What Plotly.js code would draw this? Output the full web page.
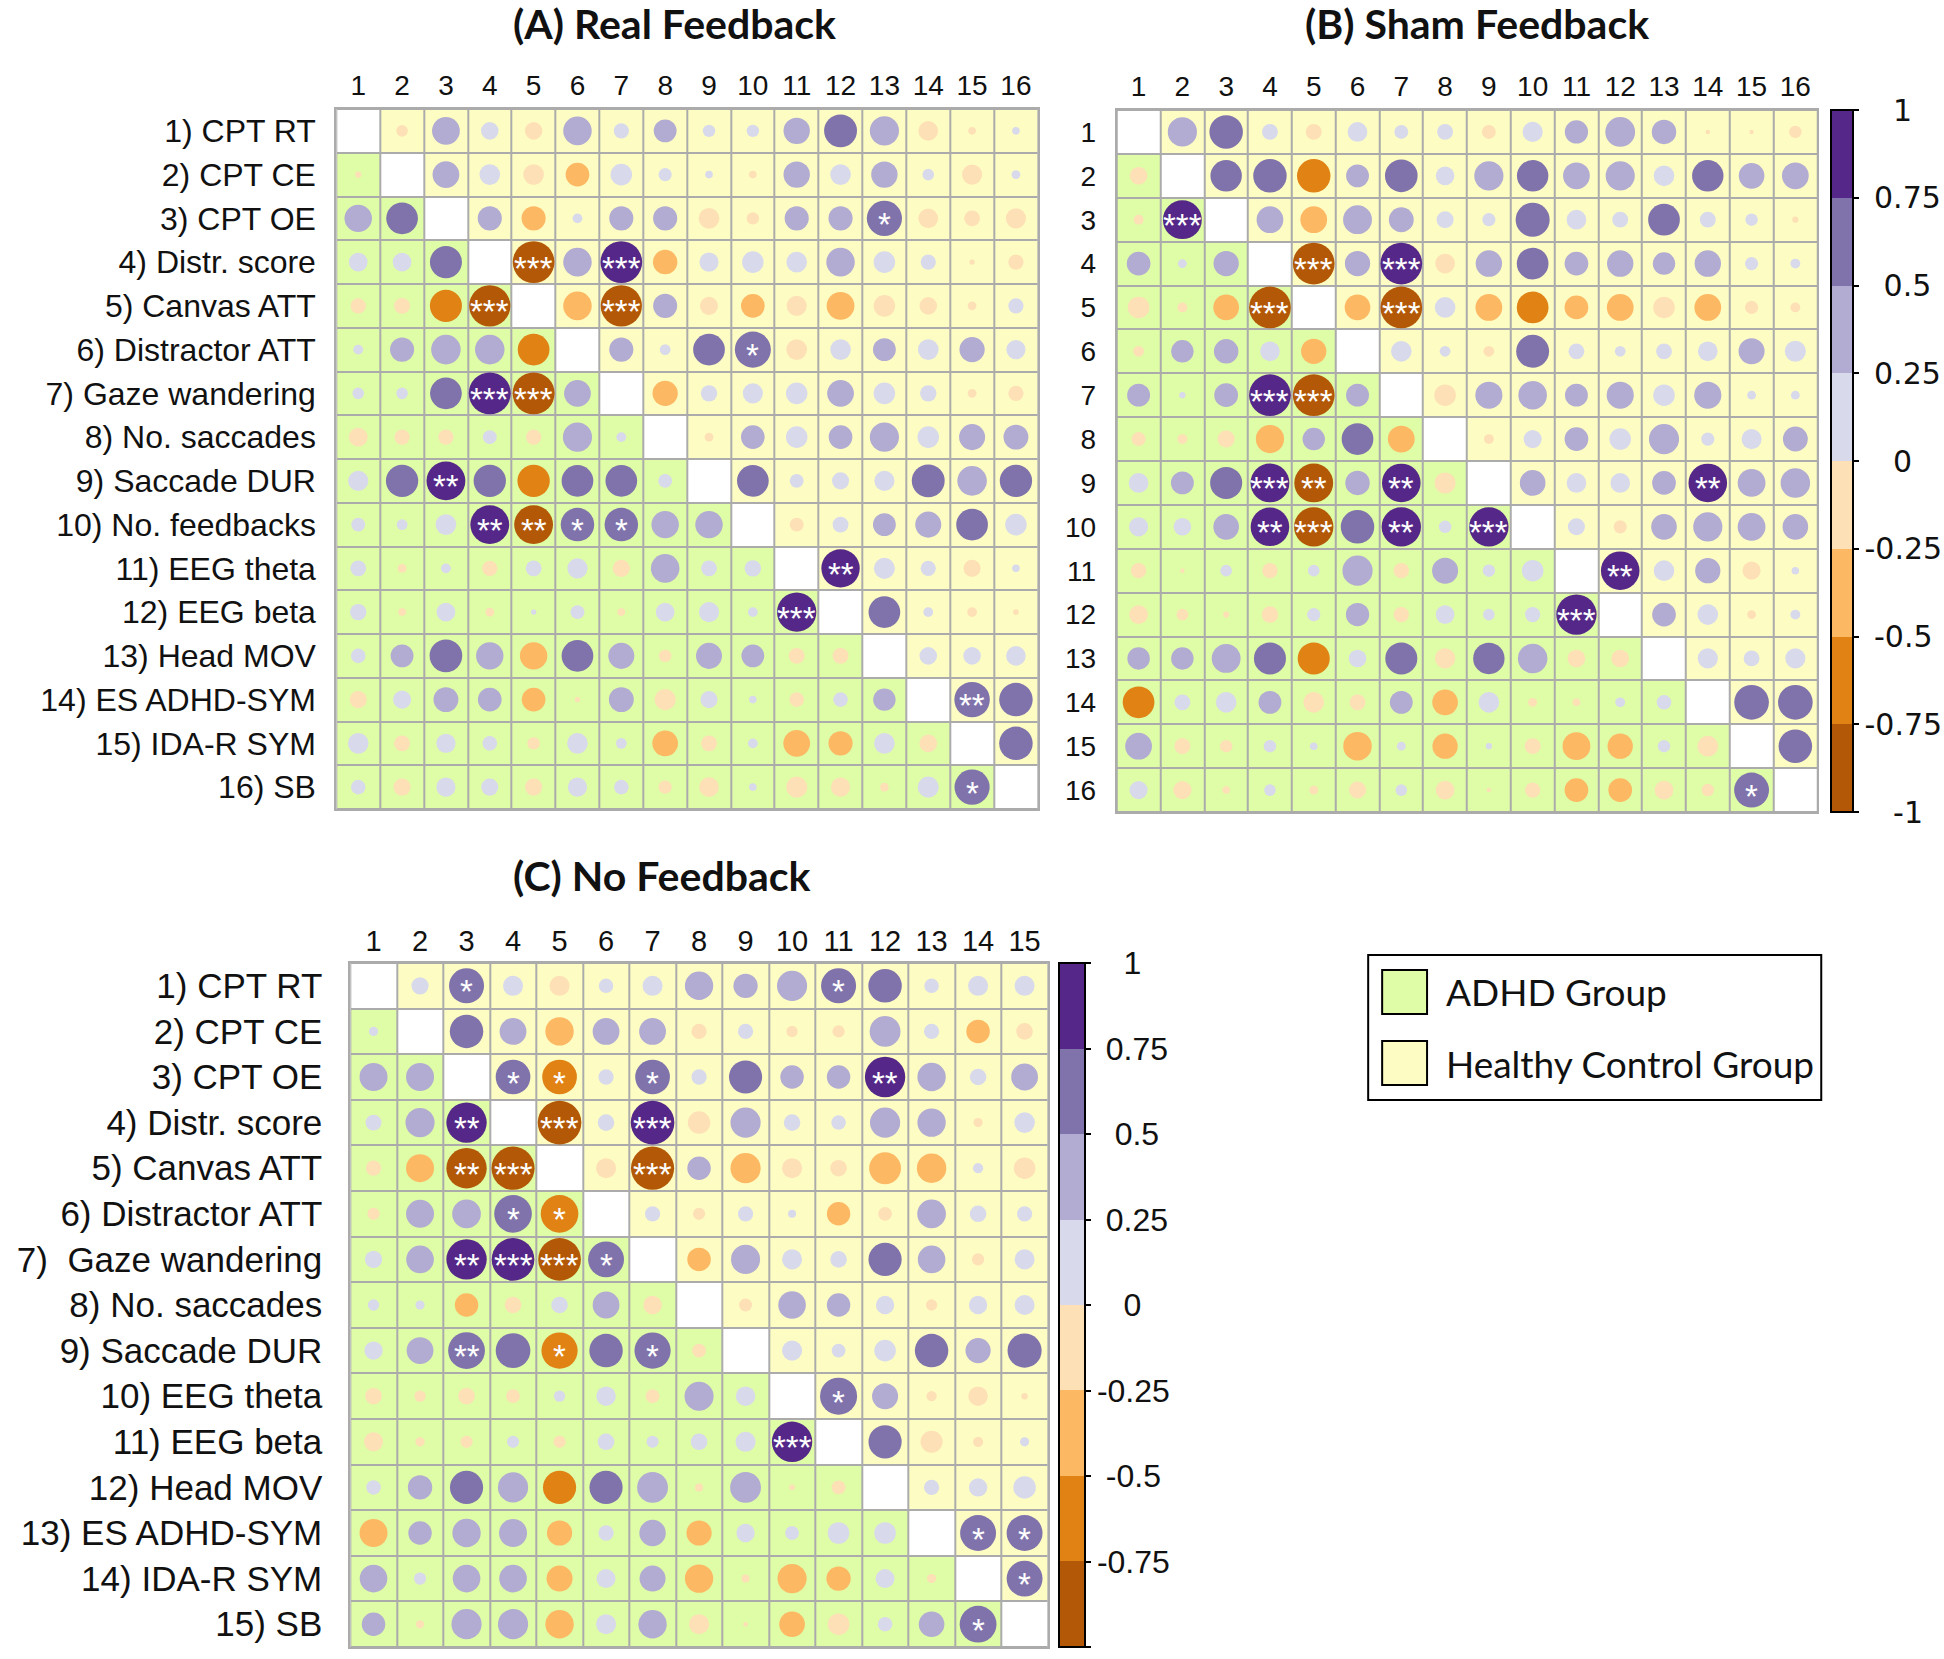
<!DOCTYPE html>
<html>
<head>
<meta charset="utf-8">
<script src="https://cdn.plot.ly/plotly-3.0.1.min.js"></script>
<style>html,body{margin:0;padding:0;background:#fff;}</style>
</head>
<body>
<div id="chart" style="width:1944px;height:1659px;"></div>
<script>
// ---------------- DATA ----------------
const rowLabelsA = ["1) CPT RT","2) CPT CE","3) CPT OE","4) Distr. score","5) Canvas ATT","6) Distractor ATT","7) Gaze wandering","8) No. saccades","9) Saccade DUR","10) No. feedbacks","11) EEG theta","12) EEG beta","13) Head MOV","14) ES ADHD-SYM","15) IDA-R SYM","16) SB"];
const rowLabelsB = ["1","2","3","4","5","6","7","8","9","10","11","12","13","14","15","16"];
const rowLabelsC = ["1) CPT RT","2) CPT CE","3) CPT OE","4) Distr. score","5) Canvas ATT","6) Distractor ATT","7)\u00a0\u00a0Gaze wandering","8) No. saccades","9) Saccade DUR","10) EEG theta","11) EEG beta","12) Head MOV","13) ES ADHD-SYM","14) IDA-R SYM","15) SB"];
const colLabels16 = ["1","2","3","4","5","6","7","8","9","10","11","12","13","14","15","16"];
const colLabels15 = ["1","2","3","4","5","6","7","8","9","10","11","12","13","14","15"];

// lower triangle = ADHD group, upper triangle = healthy control group
const corrA = [
 [null,-.07,.40,.16,-.16,.42,.12,.27,.08,.08,.36,.56,.44,-.20,-.03,.03],
 [-.02,null,.37,.22,-.22,-.29,.24,.09,.03,-.03,.36,.22,.36,.07,-.21,.04],
 [.39,.52,null,.30,-.30,.05,.30,.30,-.22,-.08,.30,.30,.64,-.20,-.13,-.21],
 [.18,.18,.53,null,-.90,.42,.90,-.31,.19,.24,.22,.42,.24,.12,-.015,-.12],
 [-.12,-.13,-.53,-.88,null,-.42,-.88,.30,-.17,-.29,-.21,-.40,-.24,-.16,-.04,.12],
 [.05,.30,.45,.45,-.52,null,.30,.06,.52,.67,-.22,.22,.27,.22,.33,.19],
 [.07,.07,.52,.91,-.91,.37,null,-.33,.14,.21,.24,.37,.24,.14,-.04,-.12],
 [-.18,-.12,-.12,.10,-.12,.44,.05,null,-.04,.29,.24,.29,.44,.24,.35,.32],
 [.21,.54,.78,.54,-.54,.52,.52,.10,null,.52,.10,.15,.21,.56,.45,.54],
 [.10,.06,.22,.78,-.78,.58,.58,.39,.39,null,-.10,.13,.27,.35,.52,.24],
 [.13,-.04,.05,-.12,.13,.21,-.15,.42,.13,.14,null,.76,.23,.12,-.15,.03],
 [.14,-.03,.18,-.04,.015,.10,-.03,.18,.21,.05,.80,null,.52,.05,-.05,-.017],
 [.11,.27,.55,.39,-.39,.52,.35,-.08,.35,.27,-.13,-.13,null,.16,.16,.20],
 [-.15,.17,.32,.29,-.29,-.015,.32,-.23,.15,.03,-.11,.11,.26,null,.65,.58],
 [.22,-.13,.19,.11,-.08,.22,.06,-.34,-.13,.05,-.37,-.30,.22,-.16,null,.58],
 [.11,-.15,.19,.15,-.15,.19,.11,-.09,-.20,.03,-.23,-.19,-.04,.23,.64,null]
];
const corrB = [
 [null,.44,.58,.13,-.13,.20,.10,.13,-.10,.21,.28,.46,.31,-.01,-.01,-.08],
 [-.16,null,.51,.58,-.58,.27,.55,.18,.44,.51,.37,.44,.22,.51,.34,.37],
 [-.05,.78,null,.37,-.37,.43,.32,.15,.09,.60,.20,.13,.52,.13,.08,-.02],
 [.29,.04,.33,null,-.90,.33,.90,-.20,.36,.52,.29,.36,.26,.36,.09,.05],
 [-.24,-.05,-.34,-.90,null,-.34,-.90,.22,-.37,-.52,-.29,-.37,-.24,-.37,-.09,-.05],
 [-.06,.26,.31,.20,-.33,null,.22,.06,-.06,.56,.13,.06,.13,.20,.35,.23],
 [.27,.02,.29,.90,-.90,.27,null,-.24,.38,.42,.27,.38,.24,.38,.04,.04],
 [-.10,-.05,-.15,-.41,.26,.52,-.37,null,-.05,.17,.29,.24,.47,.09,.21,.32],
 [.20,.27,.53,.78,-.78,.31,.77,-.23,null,.34,.20,.20,.29,.77,.40,.45],
 [.19,.16,.34,.77,-.80,.58,.80,.08,.80,null,.15,-.09,.34,.44,.40,.34],
 [-.12,-.01,.07,-.12,.07,.47,-.12,.35,.08,.24,null,.77,.22,.33,-.17,.03],
 [-.18,-.07,-.02,-.14,.09,.28,-.12,.18,.07,.12,.84,null,.29,.22,-.04,.05],
 [.26,.26,.43,.53,-.53,.16,.53,-.21,.51,.45,-.16,-.16,null,.21,.13,.21],
 [-.52,.13,.22,.27,-.22,-.13,.27,-.34,.22,-.04,-.03,.05,.11,null,.62,.62],
 [.37,-.13,-.08,.08,.03,-.42,.04,-.33,.02,-.13,-.40,-.33,.08,-.22,null,.58],
 [.17,-.17,-.03,.07,-.04,-.15,.07,-.18,-.01,-.12,-.29,-.29,-.18,-.08,.63,null]
];
const corrC = [
 [null,.14,.58,.19,-.19,.10,.19,.38,.28,.43,.58,.53,.10,.19,.19],
 [.04,null,.53,.34,-.38,.34,.34,-.11,.11,-.06,-.07,.45,.11,-.26,-.13],
 [.37,.37,null,.57,-.57,.11,.57,.11,.52,.26,.26,.77,.38,.13,.34],
 [.12,.40,.77,null,-.90,.13,.90,-.24,.43,.13,.10,.43,.38,-.04,.20],
 [-.11,-.37,-.77,-.88,null,-.19,-.88,.26,-.43,-.19,-.13,-.48,-.41,.05,-.22],
 [-.07,.37,.39,.67,-.67,null,.11,-.07,.11,.03,-.26,-.09,.39,.13,.11],
 [.14,.36,.77,.86,-.86,.61,null,-.26,.40,.19,.13,.52,.36,-.07,.19],
 [.06,.04,-.26,-.13,.13,.34,-.16,null,-.08,.36,.26,.16,-.06,.16,.19],
 [.16,.34,.64,.57,-.62,.53,.62,-.09,null,.19,.09,.22,.53,.30,.55],
 [-.13,-.06,-.13,-.09,.06,.18,-.09,.40,.18,null,.65,.32,-.05,-.18,-.02],
 [-.17,-.04,-.07,.07,-.07,.13,.07,.13,.19,.77,null,.52,-.23,-.05,.04],
 [.10,.28,.52,.43,-.52,.52,.45,-.03,.45,-.015,-.09,null,.11,.16,.24],
 [-.37,.26,.38,.37,-.30,.11,.33,-.30,.16,.09,.22,.22,null,.61,.61],
 [.36,.07,.36,.36,-.32,.17,.32,-.38,-.03,-.40,-.28,.17,-.04,null,.61],
 [.26,-.03,.43,.43,-.38,.19,.38,-.19,-.01,-.31,-.22,.10,.31,.64,null]
];
// significance marks: [row, column, stars]
const sigA = [[3,13,"*"],[4,5,"***"],[4,7,"***"],[5,4,"***"],[5,7,"***"],[6,10,"*"],[7,4,"***"],[7,5,"***"],[9,3,"**"],[10,4,"**"],[10,5,"**"],[10,6,"*"],[10,7,"*"],[11,12,"**"],[12,11,"***"],[14,15,"**"],[16,15,"*"]];
const sigB = [[3,2,"***"],[4,5,"***"],[4,7,"***"],[5,4,"***"],[5,7,"***"],[7,4,"***"],[7,5,"***"],[9,4,"***"],[9,5,"**"],[9,7,"**"],[9,14,"**"],[10,4,"**"],[10,5,"***"],[10,7,"**"],[10,9,"***"],[11,12,"**"],[12,11,"***"],[16,15,"*"]];
const sigC = [[1,3,"*"],[1,11,"*"],[3,4,"*"],[3,5,"*"],[3,7,"*"],[3,12,"**"],[4,3,"**"],[4,5,"***"],[4,7,"***"],[5,3,"**"],[5,4,"***"],[5,7,"***"],[6,4,"*"],[6,5,"*"],[7,3,"**"],[7,4,"***"],[7,5,"***"],[7,6,"*"],[9,3,"**"],[9,5,"*"],[9,7,"*"],[10,11,"*"],[11,10,"***"],[13,14,"*"],[13,15,"*"],[14,15,"*"],[15,14,"*"]];

const panelTitles = ["(A) Real Feedback","(B) Sham Feedback","(C) No Feedback"];
const groupNames = ["ADHD Group","Healthy Control Group"];
const colorbarTicks = [1,0.75,0.5,0.25,0,-0.25,-0.5,-0.75,-1];
const colorbarTickText = ["1","0.75","0.5","0.25","0","-0.25","-0.5","-0.75","-1"];

// ---------------- STYLE ----------------
const W = 1944, H = 1659;
const GREEN = "#dffca7", YELLOW = "#fdfdc3", GRID = "#ababab";
const puor = ["#b35806","#e08214","#fdb863","#fee0b6","#d8daeb","#b2abd2","#8073ac","#542788"];
const colorscale = [];
puor.forEach((c,i)=>{ colorscale.push([i/8,c]); colorscale.push([(i+1)/8,c]); });
const ARIAL = "Liberation Sans, Arial, sans-serif";
const DEJAVU = "DejaVu Sans, Verdana, sans-serif";
const LATO = "Lato, Open Sans, sans-serif";

const fx = p => p / W;
const fy = p => 1 - p / H;

// centre the colorbar labels by padding them with no-break spaces (widths in em)
function centred(labels, w) {
  const width = s => [...s].reduce((a,ch)=> a + (ch === "." ? w.dot : ch === "-" ? w.minus : w.digit), 0);
  const max = Math.max(...labels.map(width));
  return labels.map(s => "\u00a0".repeat(Math.round((max - width(s)) / 2 / w.space)) + s);
}

const panels = [
  {vals:corrA, sig:sigA, rows:rowLabelsA, cols:colLabels16, x0:337, x1:1040, y0:109, y1:809, cell:44, rowFont:32, rowLen:12, colFont:28, colOff:-7, cb:null},
  {vals:corrB, sig:sigB, rows:rowLabelsB, cols:colLabels16, x0:1119, x1:1821, y0:110, y1:812, cell:44, rowFont:28, rowLen:13, colFont:28, colOff:-7,
    cb:{x:1835, top:110, len:702, thick:22, font:DEJAVU, size:30, w:{digit:.636, dot:.318, minus:.361, space:.318}}},
  {vals:corrC, sig:sigC, rows:rowLabelsC, cols:colLabels15, x0:351, x1:1050, y0:963, y1:1647, cell:46, rowFont:35, rowLen:19, colFont:29, colOff:-10,
    cb:{x:1061, top:963, len:684, thick:26, font:ARIAL, size:32, w:{digit:.556, dot:.278, minus:.333, space:.278}}}
];

const traces = [];
const layout = {
  width: W, height: H,
  margin: {l:0, r:0, t:0, b:0},
  paper_bgcolor: "#ffffff",
  plot_bgcolor: GRID,
  showlegend: false,
  annotations: [], shapes: []
};

panels.forEach((p, k) => {
  const n = p.vals.length;
  const sx = k === 0 ? "" : String(k+1);
  const xa = "x" + sx, ya = "y" + sx;
  const idx = Array.from({length:n}, (_,i)=>i+1);
  // background cells by group
  const z = idx.map(r => idx.map(c => r > c ? 0 : (r < c ? 1 : 2)));
  traces.push({
    type:"heatmap", x: idx, y: idx, z: z, xaxis: xa, yaxis: ya,
    zmin:0, zmax:2, showscale:false, xgap:2, ygap:2, hoverinfo:"skip",
    colorscale:[[0,GREEN],[0.25,GREEN],[0.25,YELLOW],[0.75,YELLOW],[0.75,"#ffffff"],[1,"#ffffff"]]
  });
  // circles: area proportional to |r|
  const xs=[], ys=[], vs=[], ss=[];
  p.vals.forEach((row, r) => row.forEach((v, c) => {
    if (v === null) return;
    xs.push(c+1); ys.push(r+1); vs.push(v);
    ss.push(p.cell * Math.sqrt(Math.abs(v)));
  }));
  const marker = {size: ss, color: vs, colorscale: colorscale, cmin:-1, cmax:1, line:{width:0}, opacity:1,
    showscale: !!p.cb};
  if (p.cb) {
    marker.colorbar = {
      x: fx(p.cb.x), xanchor:"left", xref:"paper",
      y: fy(p.cb.top), yanchor:"top", yref:"paper",
      len: p.cb.len, lenmode:"pixels", thickness: p.cb.thick, thicknessmode:"pixels",
      xpad:0, ypad:0, outlinecolor:"#000", outlinewidth:2,
      tickmode:"array", tickvals: colorbarTicks, ticktext: centred(colorbarTickText, p.cb.w),
      ticks:"outside", ticklen:5, tickwidth:2, tickcolor:"#000",
      tickfont:{family:p.cb.font, size:p.cb.size, color:"#111"}
    };
  }
  traces.push({
    type:"scatter", mode:"markers", x: xs, y: ys, xaxis: xa, yaxis: ya,
    marker: marker, hoverinfo:"skip", cliponaxis:false
  });
  // significance stars, placed on the cells through the panel axes
  p.sig.forEach(s => {
    layout.annotations.push({
      x: s[1], y: s[0], xref: xa, yref: ya, text: s[2], showarrow:false,
      xanchor:"center", yanchor:"middle", yshift:-6,
      font:{family:ARIAL, size:33, color:"#ffffff"}
    });
  });
  const xKey = "xaxis" + sx, yKey = "yaxis" + sx;
  layout[xKey] = {
    domain:[fx(p.x0), fx(p.x1)], anchor: ya, range:[0.5, n+0.5], side:"top",
    tickmode:"array", tickvals: idx, ticktext: p.cols,
    ticks:"outside", ticklen:8, tickcolor:"rgba(0,0,0,0)", ticklabelstandoff: p.colOff,
    tickfont:{family:ARIAL, size:p.colFont, color:"#111"},
    showgrid:false, zeroline:false, showline:true, mirror:true, linecolor:GRID, linewidth:2, fixedrange:true
  };
  layout[yKey] = {
    domain:[fy(p.y1), fy(p.y0)], anchor: xa, range:[n+0.5, 0.5],
    tickmode:"array", tickvals: idx, ticktext: p.rows,
    ticks:"outside", ticklen:p.rowLen, tickcolor:"rgba(0,0,0,0)",
    tickfont:{family:ARIAL, size:p.rowFont, color:"#111"},
    showgrid:false, zeroline:false, showline:true, mirror:true, linecolor:GRID, linewidth:2, fixedrange:true
  };
});

// panel titles
const titlePos = [[676,-3],[1480,-3],[663,849]];
panelTitles.forEach((t,i) => {
  layout.annotations.push({
    text:"<b>"+t+"</b>", xref:"paper", yref:"paper",
    x: fx(titlePos[i][0]), y: fy(titlePos[i][1]), xanchor:"center", yanchor:"top",
    showarrow:false, font:{family:LATO, size:41, color:"#111"}
  });
});

// group legend
layout.shapes.push({type:"rect", xref:"paper", yref:"paper", x0:fx(1371), x1:fx(1825), y0:fy(1100), y1:fy(955),
  line:{color:"#000", width:2}, fillcolor:"rgba(0,0,0,0)"});
const legendColors = [GREEN, YELLOW];
const legendY = [[970,1014],[1041,1085]];
groupNames.forEach((g,i) => {
  layout.shapes.push({type:"rect", xref:"paper", yref:"paper", x0:fx(1385), x1:fx(1430),
    y0:fy(legendY[i][1]), y1:fy(legendY[i][0]), line:{color:"#000", width:2}, fillcolor:legendColors[i]});
  layout.annotations.push({text:g, xref:"paper", yref:"paper", x:fx(1447), y:fy((legendY[i][0]+legendY[i][1])/2),
    xanchor:"left", yanchor:"middle", showarrow:false, font:{family:LATO, size:37, color:"#111"}});
});

Plotly.newPlot("chart", traces, layout, {staticPlot:true, displayModeBar:false});
</script>
</body>
</html>
